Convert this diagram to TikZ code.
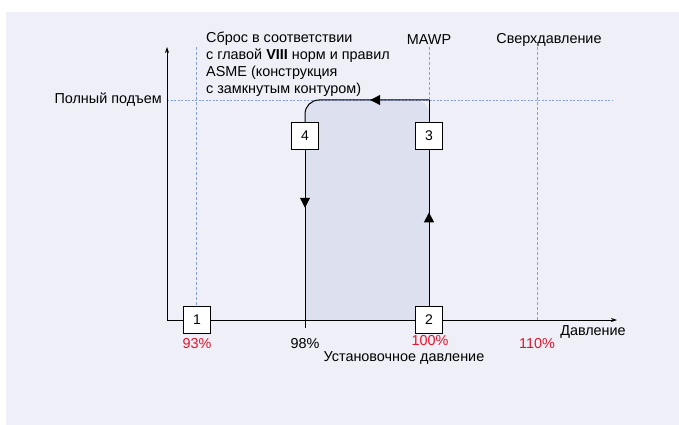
\documentclass[tikz,border=0pt]{standalone}
\usepackage{fontspec}
\setmainfont{Liberation Sans}
\usetikzlibrary{arrows.meta,decorations.markings}
\definecolor{bgpanel}{RGB}{238,239,247}
\definecolor{loopfill}{RGB}{221,224,239}
\definecolor{guideblue}{RGB}{135,160,215}
\definecolor{pctred}{RGB}{228,20,45}

\begin{document}
\begin{tikzpicture}[x=1pt, y=-1pt,
  numbox/.style={draw, fill=white, minimum size=27pt, inner sep=0pt,
    font=\fontsize{14}{16}\selectfont, line width=0.9pt},
  guide/.style={guideblue, dash pattern=on 3pt off 2pt, line width=0.8pt},
  axisline/.style={line width=0.9pt, -{Stealth[length=6pt,width=4pt]}},
  flow/.style={line width=1pt},
  midarrow/.style={postaction={decorate}, decoration={markings,
    mark=at position #1 with {\arrow{Triangle[length=10pt,width=10pt]}}}},
  lbl/.style={font=\fontsize{14.4}{17}\selectfont, inner sep=0pt},
  pct/.style={lbl, text=pctred},
]
  % panel
  \useasboundingbox (0,0) rectangle (679,425);
  \fill[bgpanel] (6,12) rectangle (679,425);

  % === LOOP AREA ===
  \fill[loopfill] (305,320) [rounded corners=14pt] |- (429,100)
    [sharp corners] -- (429,320) -- cycle;

  % axis points
  \coordinate (o) at (167,320);
  \coordinate (ytop) at (167,47);
  \coordinate (xend) at (617,320);
  \coordinate (t98) at (305,320);
  \coordinate (t98b) at (305,328);
  \coordinate (topR) at (429,100);

  % Guides
  \draw[guide] (196,47) -- (196,306);
  \draw[guide] (429,47) -- (429,320);
  \draw[guide] (537,47) -- (537,320);
  \draw[guideblue, dash pattern=on 2pt off 1.5pt, line width=0.8pt]
    (167,100) -- (613,100);

  % Axes
  \draw[axisline] (o) -- (ytop);
  \draw[axisline] (o) -- (xend);
  \draw[line width=0.9pt] (t98) -- (t98b);

  % Numbered boxes
  \node[numbox] (b1) at (197,320) {1};
  \node[numbox] (b2) at (429,320) {2};
  \node[numbox] (b3) at (429,136) {3};
  \node[numbox] (b4) at (305,136) {4};

  % Loop
  \draw[flow, midarrow=0.6] (b2) -- (b3);
  \draw[flow] (b3) -- (topR);
  \draw[flow, midarrow=0.42] (topR) [rounded corners=14pt] -| (b4);
  \draw[flow, midarrow=0.34] (b4) -- (t98);

  % Labels
  \node[lbl, anchor=east] (fulllift) at (162,100) {Полный подъем};
  \node[lbl, anchor=north west, align=left] (asme) at (206,32)
    {Сброс в соответствии\\с главой \textbf{VIII} норм и правил\\ASME (конструкция\\с замкнутым контуром)};
  \node[lbl] (mawp) at (429,40) {MAWP};
  \node[lbl] (over) at (549,40) {Сверхдавление};
  \node[lbl] (press) at (593,332) {Давление};
  \node[pct] (p93) at (197,344) {93\%};
  \node[lbl] (p98) at (305,344) {98\%};
  \node[pct] (p100) at (430,341) {100\%};
  \node[pct] (p110) at (537,344) {110\%};
  \node[lbl] (setp) at (404,357.5) {Установочное давление};
\end{tikzpicture}
\end{document}
